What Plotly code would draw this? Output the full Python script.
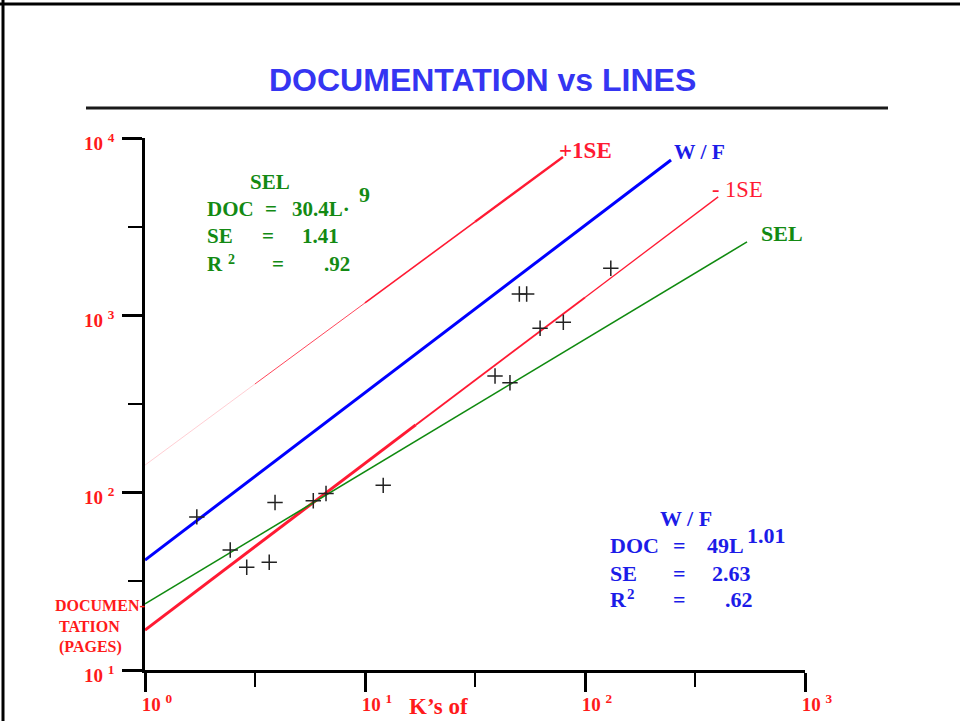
import plotly.graph_objects as go

# ---------------- data ----------------
# observed projects: K's of lines vs documentation pages
obs_lines = [1.72, 2.44, 2.90, 3.67, 3.90, 5.82, 6.65, 12.1, 39.0, 45.6, 50.3, 54.3, 62.5, 79.7, 131]
obs_pages = [73, 47.5, 38, 40.5, 88, 90, 99, 110, 455, 417, 1320, 1320, 845, 914, 1844]

# fitted lines (end points)
wf_x = [1, 246]
wf_y = [41.7, 7520]
sel_x = [1, 545]
sel_y = [23.6, 2594]
# +1SE line, drawn in pieces of growing weight
plus_x = [1, 3.16, 10, 31.6, 79.4]
plus_y = [143, 410, 1175, 3365, 7820]
# -1SE line, drawn in pieces of shrinking weight
minus_x = [1, 17, 100, 403]
minus_y = [16.8, 241, 1262, 4657]

x_tickvals = [1, 10, 100, 1000]
x_ticktext = ["<b>10 <sup>0</sup></b>", "<b>10 <sup>1</sup></b>", "<b>10 <sup>2</sup></b>", "<b>10 <sup>3</sup></b>"]
y_tickvals = [10, 100, 1000, 10000]
y_ticktext = ["<b>10 <sup>1</sup></b>", "<b>10 <sup>2</sup></b>", "<b>10 <sup>3</sup></b>", "<b>10 <sup>4</sup></b>"]
x_minor = [3.162, 31.62, 316.2]
y_minor = [31.62, 316.2, 3162]

# ---------------- styling ----------------
RED = "#ff1a33"
LABEL_RED = "#ff1a1a"
BLUE_LINE = "#0000ff"
BLUE_TXT = "#1c1ce8"
GREEN_LINE = "#108a10"
GREEN_TXT = "#138a13"
SERIF = "Liberation Serif"

W, H = 960, 721
L, R, T, B = 145, 805, 138, 670

fig = go.Figure()

# +1SE pieces
plus_w = [0.6, 1.0, 1.6, 2.4]
plus_op = [0.35, 0.8, 1.0, 1.0]
for i in range(len(plus_x) - 1):
    fig.add_trace(go.Scatter(x=plus_x[i:i + 2], y=plus_y[i:i + 2], mode="lines",
                             line=dict(color=RED, width=plus_w[i]), opacity=plus_op[i],
                             hoverinfo="skip", showlegend=False))
# -1SE pieces
minus_w = [3.0, 1.9, 1.3]
for i in range(len(minus_x) - 1):
    fig.add_trace(go.Scatter(x=minus_x[i:i + 2], y=minus_y[i:i + 2], mode="lines",
                             line=dict(color=RED, width=minus_w[i]),
                             hoverinfo="skip", showlegend=False))
fig.add_trace(go.Scatter(x=wf_x, y=wf_y, mode="lines", line=dict(color=BLUE_LINE, width=3),
                         showlegend=False))
fig.add_trace(go.Scatter(x=sel_x, y=sel_y, mode="lines", line=dict(color=GREEN_LINE, width=1.6),
                         showlegend=False))
fig.add_trace(go.Scatter(x=obs_lines, y=obs_pages, mode="markers",
                         marker=dict(symbol="cross-thin", size=11, line=dict(color="#222222", width=1.5)),
                         showlegend=False))


def px(x):
    return (x - L) / (R - L)


def py(y):
    return (B - y) / (B - T)


anns = []


def ann(text, x, y, size, color, xanchor="left", bold=True, family=SERIF):
    t = f"<b>{text}</b>" if bold else text
    anns.append(dict(text=t, x=px(x), y=py(y), xref="paper", yref="paper",
                     xanchor=xanchor, yanchor="middle", showarrow=False,
                     font=dict(family=family, size=size, color=color)))


# title
ann("DOCUMENTATION vs LINES", 482, 80, 32, "#3535f2", xanchor="center", family="Liberation Sans")

# SEL block
GS = 21
ann("SEL", 248, 182, GS, GREEN_TXT)
ann("DOC", 205, 209, GS, GREEN_TXT)
ann("=", 271, 209, GS, GREEN_TXT, xanchor="center")
ann("30.4L·", 290, 209, GS, GREEN_TXT)
ann("9", 364, 194, 22, GREEN_TXT, xanchor="center")
ann("SE", 205, 236, GS, GREEN_TXT)
ann("=", 268, 236, GS, GREEN_TXT, xanchor="center")
ann("1.41", 300, 236, GS, GREEN_TXT)
ann("R", 205, 264, GS, GREEN_TXT)
ann("2", 231, 259, 14, GREEN_TXT, xanchor="center")
ann("=", 278, 264, GS, GREEN_TXT, xanchor="center")
ann(".92", 322, 264, GS, GREEN_TXT)

# W/F block
BS = 22
ann("W / F", 658, 518, BS, BLUE_TXT)
ann("DOC", 608, 545, BS, BLUE_TXT)
ann("=", 679, 545, BS, BLUE_TXT, xanchor="center")
ann("49L", 705, 545, BS, BLUE_TXT)
ann("1.01", 745, 535, BS, BLUE_TXT)
ann("SE", 608, 573, BS, BLUE_TXT)
ann("=", 679, 573, BS, BLUE_TXT, xanchor="center")
ann("2.63", 710, 573, BS, BLUE_TXT)
ann("R", 608, 599, BS, BLUE_TXT)
ann("2", 631, 594, 15, BLUE_TXT, xanchor="center")
ann("=", 679, 599, BS, BLUE_TXT, xanchor="center")
ann(".62", 723, 599, BS, BLUE_TXT)

# line labels
ann("+1SE", 557, 150, 23, RED)
ann("W / F", 672, 152, 21.5, BLUE_TXT)
ann("- 1SE", 710, 189, 22.5, RED, bold=False)
ann("SEL", 759, 233, 22, GREEN_TXT)

# axis titles
ann("K’s of", 407, 706, 23, LABEL_RED)
ann("DOCUMEN-", 53, 605, 16, LABEL_RED)
ann("TATION", 57, 626, 16, LABEL_RED)
ann("(PAGES)", 57, 647, 16, LABEL_RED)

shapes = [
    # rule under the title
    dict(type="line", xref="paper", yref="paper", x0=px(86), x1=px(888), y0=py(108), y1=py(108),
         line=dict(color="#1a1a1a", width=3)),
    # slide frame (top and left)
    dict(type="line", xref="paper", yref="paper", x0=px(0), x1=px(960), y0=py(4), y1=py(4),
         line=dict(color="black", width=3)),
    dict(type="line", xref="paper", yref="paper", x0=px(3), x1=px(3), y0=py(0), y1=py(721),
         line=dict(color="black", width=3)),
]

axis_common = dict(type="log", showgrid=False, zeroline=False, showline=True,
                   linecolor="black", linewidth=2.5, ticks="outside", tickwidth=2.5,
                   tickcolor="black", mirror=False, automargin=False)

fig.update_layout(
    width=W, height=H,
    margin=dict(l=L, r=W - R, t=T, b=H - B, pad=0, autoexpand=False),
    paper_bgcolor="white", plot_bgcolor="white",
    showlegend=False,
    annotations=anns, shapes=shapes,
    xaxis=dict(**axis_common, range=[0, 3], tickvals=x_tickvals, ticktext=x_ticktext,
               ticklen=19, ticklabelshift=12, ticklabelstandoff=-4,
               tickfont=dict(family=SERIF, size=19, color=LABEL_RED),
               minor=dict(tickvals=x_minor, ticklen=14, tickwidth=2, tickcolor="black",
                          ticks="outside", showgrid=False)),
    yaxis=dict(**axis_common, range=[1, 4], tickvals=y_tickvals, ticktext=y_ticktext,
               ticklen=20, ticklabelshift=5, ticklabelstandoff=4,
               tickfont=dict(family=SERIF, size=19, color=LABEL_RED),
               minor=dict(tickvals=y_minor, ticklen=14, tickwidth=2, tickcolor="black",
                          ticks="outside", showgrid=False)),
)

fig.write_html("out.html", config={"displayModeBar": False},
               post_script="document.body.style.margin='0px';document.body.style.overflow='hidden';")
